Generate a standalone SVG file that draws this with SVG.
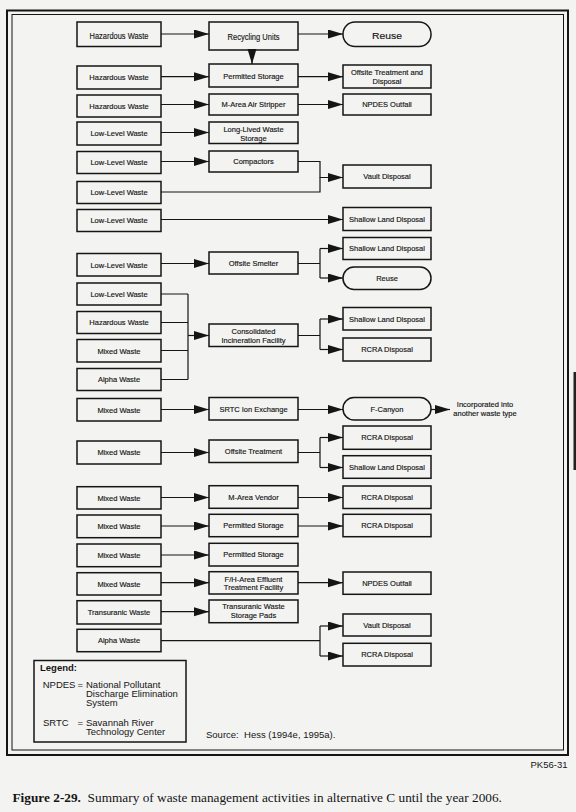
<svg xmlns="http://www.w3.org/2000/svg" width="576" height="812" viewBox="0 0 576 812">
<style>
.b{fill:none;stroke:#151515;stroke-width:1.5}
.c{fill:none;stroke:#151515;stroke-width:1.2}
.a{marker-end:url(#ah)}
.t{font-family:"Liberation Sans",Arial,sans-serif;font-size:7.5px;text-anchor:middle;fill:#151515;stroke:#151515;stroke-width:0.15}
.g{font-family:"Liberation Sans",Arial,sans-serif;font-size:9.5px;text-anchor:middle;fill:#151515;stroke:#151515;stroke-width:0.15}
.l{font-family:"Liberation Sans",Arial,sans-serif;font-size:9.5px;fill:#151515}
.cap{font-family:"Liberation Serif","Times New Roman",serif;font-size:13.3px;fill:#151515}
</style>
<defs>
<marker id="ah" markerUnits="userSpaceOnUse" markerWidth="16" markerHeight="10" refX="15" refY="4.5" orient="auto">
<path d="M0,0 L15,4.5 L0,9 z" fill="#151515"/>
</marker>
</defs>
<rect x="0" y="0" width="576" height="812" fill="#f3f3f2"/>
<g id="frame">
<rect x="7" y="10.5" width="561" height="744.5" fill="none" stroke="#151515" stroke-width="2"/>
<rect x="12" y="14.5" width="551.5" height="735.5" fill="none" stroke="#151515" stroke-width="1"/>
<rect x="573.5" y="372" width="2.5" height="98" fill="#222"/>
</g>
<g id="connectors">
<path class="c a" d="M161,34 H209"/>
<path class="c a" d="M298,34 H343"/>
<path class="c a" d="M252,50 V64"/>
<path class="c a" d="M161,76.7 H209"/>
<path class="c a" d="M298,76.7 H343"/>
<path class="c a" d="M161,104.5 H209"/>
<path class="c a" d="M298,104.5 H343"/>
<path class="c a" d="M161,132.5 H209"/>
<path class="c a" d="M161,161.5 H209"/>
<path class="c a" d="M298,161.5 H320 V177.5 H343"/>
<path class="c" d="M161,192 H320 V177.5"/>
<path class="c a" d="M161,219.5 H343"/>
<path class="c a" d="M161,263.5 H209"/>
<path class="c" d="M298,263.5 H320 M320,248.5 V278"/>
<path class="c a" d="M320,248.5 H343"/>
<path class="c a" d="M320,278 H343"/>
<path class="c" d="M161,294 H188 M161,322.5 H188 M161,350.5 H188 M161,379.5 H188 M188,294 V379.5"/>
<path class="c a" d="M188,335.5 H209"/>
<path class="c" d="M298,335.5 H320 M320,319 V349.5"/>
<path class="c a" d="M320,319 H343"/>
<path class="c a" d="M320,349.5 H343"/>
<path class="c a" d="M161,409.5 H209"/>
<path class="c a" d="M298,409.5 H343"/>
<path class="c a" d="M431,409.5 H450"/>
<path class="c a" d="M161,452.5 H209"/>
<path class="c" d="M298,452.5 H320 M320,437.5 V467.5"/>
<path class="c a" d="M320,437.5 H343"/>
<path class="c a" d="M320,467.5 H343"/>
<path class="c a" d="M161,497.5 H209"/>
<path class="c a" d="M298,497.5 H343"/>
<path class="c a" d="M161,526 H209"/>
<path class="c a" d="M298,526 H343"/>
<path class="c a" d="M161,555 H209"/>
<path class="c a" d="M161,582.7 H209"/>
<path class="c a" d="M298,582.7 H343"/>
<path class="c a" d="M161,611.7 H209"/>
<path class="c" d="M161,640.7 H320 M320,626 V656"/>
<path class="c a" d="M320,626 H343"/>
<path class="c a" d="M320,656 H343"/>
</g>
<g id="n01"><rect class="b" x="77" y="22" width="84" height="24.5"/><text class="g" x="119" y="39" textLength="59" lengthAdjust="spacingAndGlyphs">Hazardous Waste</text></g>
<g id="n02"><rect class="b" x="209" y="22" width="89" height="28"/><text class="g" x="253.5" y="39.5" textLength="52" lengthAdjust="spacingAndGlyphs">Recycling Units</text></g>
<g id="n03"><rect class="b" x="343" y="22" width="88" height="24.5" rx="12"/><text class="g" x="387" y="38.5" textLength="30" lengthAdjust="spacingAndGlyphs">Reuse</text></g>
<g id="n04"><rect class="b" x="77" y="66" width="84" height="23"/><text class="t" x="119" y="80">Hazardous Waste</text></g>
<g id="n05"><rect class="b" x="209" y="64" width="89" height="23"/><text class="t" x="253.5" y="78.5">Permitted Storage</text></g>
<g id="n06"><rect class="b" x="343" y="65" width="88" height="23"/><text class="t" x="387" y="75">Offsite Treatment and<tspan x="387" dy="9">Disposal</tspan></text></g>
<g id="n07"><rect class="b" x="77" y="95" width="84" height="22"/><text class="t" x="119" y="108.7">Hazardous Waste</text></g>
<g id="n08"><rect class="b" x="209" y="94" width="89" height="21"/><text class="t" x="253.5" y="107.2">M-Area Air Stripper</text></g>
<g id="n09"><rect class="b" x="343" y="94" width="88" height="21"/><text class="t" x="387" y="107.2">NPDES Outfall</text></g>
<g id="n10"><rect class="b" x="77" y="122" width="84" height="23"/><text class="t" x="119" y="136.2">Low-Level Waste</text></g>
<g id="n11"><rect class="b" x="209" y="122" width="89" height="21.5"/><text class="t" x="253.5" y="132">Long-Lived Waste<tspan x="253.5" dy="9">Storage</tspan></text></g>
<g id="n12"><rect class="b" x="77" y="151.5" width="84" height="22"/><text class="t" x="119" y="165.2">Low-Level Waste</text></g>
<g id="n13"><rect class="b" x="209" y="151" width="89" height="21"/><text class="t" x="253.5" y="164.2">Compactors</text></g>
<g id="n14"><rect class="b" x="343" y="165" width="88" height="23"/><text class="t" x="387" y="179.2">Vault Disposal</text></g>
<g id="n15"><rect class="b" x="77" y="181.5" width="84" height="22"/><text class="t" x="119" y="195.2">Low-Level Waste</text></g>
<g id="n16"><rect class="b" x="77" y="209.5" width="84" height="22"/><text class="t" x="119" y="223.2">Low-Level Waste</text></g>
<g id="n17"><rect class="b" x="343" y="207.5" width="88" height="23"/><text class="t" x="387" y="221.7">Shallow Land Disposal</text></g>
<g id="n18"><rect class="b" x="77" y="253.5" width="84" height="22.5"/><text class="t" x="119" y="267.5">Low-Level Waste</text></g>
<g id="n19"><rect class="b" x="209" y="252" width="89" height="22"/><text class="t" x="253.5" y="265.7">Offsite Smelter</text></g>
<g id="n20"><rect class="b" x="343" y="237.5" width="88" height="22"/><text class="t" x="387" y="251.2">Shallow Land Disposal</text></g>
<g id="n21"><rect class="b" x="343" y="267" width="88" height="22.5" rx="11"/><text class="t" x="387" y="281">Reuse</text></g>
<g id="n22"><rect class="b" x="77" y="283" width="84" height="22"/><text class="t" x="119" y="296.7">Low-Level Waste</text></g>
<g id="n23"><rect class="b" x="77" y="311.5" width="84" height="22"/><text class="t" x="119" y="325.2">Hazardous Waste</text></g>
<g id="n24"><rect class="b" x="77" y="339.5" width="84" height="22.5"/><text class="t" x="119" y="353.5">Mixed Waste</text></g>
<g id="n25"><rect class="b" x="77" y="368.5" width="84" height="22"/><text class="t" x="119" y="382.2">Alpha Waste</text></g>
<g id="n26"><rect class="b" x="209" y="324" width="89" height="22.5"/><text class="t" x="253.5" y="334.4">Consolidated<tspan x="253.5" dy="8.5">Incineration Facility</tspan></text></g>
<g id="n27"><rect class="b" x="343" y="307.5" width="88" height="22.5"/><text class="t" x="387" y="321.5">Shallow Land Disposal</text></g>
<g id="n28"><rect class="b" x="343" y="338" width="88" height="23"/><text class="t" x="387" y="352.2">RCRA Disposal</text></g>
<g id="n29"><rect class="b" x="77" y="398.5" width="84" height="22.5"/><text class="t" x="119" y="412.5">Mixed Waste</text></g>
<g id="n30"><rect class="b" x="209" y="397.5" width="89" height="22.5"/><text class="t" x="253.5" y="411.5">SRTC Ion Exchange</text></g>
<g id="n31"><rect class="b" x="343" y="397.5" width="88" height="22.5" rx="11"/><text class="t" x="387" y="411.5">F-Canyon</text></g>
<g id="n31-label"><text class="t" x="485" y="406.5">Incorporated into<tspan x="485" dy="9.5">another waste type</tspan></text></g>
<g id="n32"><rect class="b" x="77" y="441" width="84" height="23"/><text class="t" x="119" y="455.2">Mixed Waste</text></g>
<g id="n33"><rect class="b" x="209" y="440" width="89" height="22.5"/><text class="t" x="253.5" y="454">Offsite Treatment</text></g>
<g id="n34"><rect class="b" x="343" y="426" width="88" height="23.3"/><text class="t" x="387" y="440.4">RCRA Disposal</text></g>
<g id="n35"><rect class="b" x="343" y="455.7" width="88" height="22.6"/><text class="t" x="387" y="469.7">Shallow Land Disposal</text></g>
<g id="n36"><rect class="b" x="77" y="486.7" width="84" height="22.3"/><text class="t" x="119" y="500.5">Mixed Waste</text></g>
<g id="n37"><rect class="b" x="209" y="485.7" width="89" height="22.6"/><text class="t" x="253.5" y="499.7">M-Area Vendor</text></g>
<g id="n38"><rect class="b" x="343" y="486" width="88" height="22.5"/><text class="t" x="387" y="500">RCRA Disposal</text></g>
<g id="n39"><rect class="b" x="77" y="515" width="84" height="22.7"/><text class="t" x="119" y="529">Mixed Waste</text></g>
<g id="n40"><rect class="b" x="209" y="514.3" width="89" height="22.4"/><text class="t" x="253.5" y="528.2">Permitted Storage</text></g>
<g id="n41"><rect class="b" x="343" y="514.3" width="88" height="22.4"/><text class="t" x="387" y="528.2">RCRA Disposal</text></g>
<g id="n42"><rect class="b" x="77" y="544" width="84" height="22.7"/><text class="t" x="119" y="558">Mixed Waste</text></g>
<g id="n43"><rect class="b" x="209" y="543.3" width="89" height="22.7"/><text class="t" x="253.5" y="557.3">Permitted Storage</text></g>
<g id="n44"><rect class="b" x="77" y="572.7" width="84" height="22.3"/><text class="t" x="119" y="586.5">Mixed Waste</text></g>
<g id="n45"><rect class="b" x="209" y="571.7" width="89" height="22.3"/><text class="t" x="253.5" y="581.7">F/H-Area Effluent<tspan x="253.5" dy="8.3">Treatment Facility</tspan></text></g>
<g id="n46"><rect class="b" x="343" y="572" width="88" height="22.3"/><text class="t" x="387" y="586">NPDES Outfall</text></g>
<g id="n47"><rect class="b" x="77" y="600.7" width="84" height="23.3"/><text class="t" x="119" y="615">Transuranic Waste</text></g>
<g id="n48"><rect class="b" x="209" y="600" width="89" height="22.7"/><text class="t" x="253.5" y="609.4">Transuranic Waste<tspan x="253.5" dy="9">Storage Pads</tspan></text></g>
<g id="n49"><rect class="b" x="77" y="629.3" width="84" height="22.4"/><text class="t" x="119" y="643.2">Alpha Waste</text></g>
<g id="n50"><rect class="b" x="343" y="614" width="88" height="22"/><text class="t" x="387" y="627.7">Vault Disposal</text></g>
<g id="n51"><rect class="b" x="343" y="643.3" width="88" height="22.7"/><text class="t" x="387" y="657.4">RCRA Disposal</text></g>
<g id="legend">
<rect x="34" y="660.5" width="152" height="81.5" fill="none" stroke="#151515" stroke-width="1.5"/>
<text class="l" x="40" y="671" font-weight="bold" font-size="11px">Legend:</text>
<text class="l" x="42.7" y="687.5">NPDES</text><text class="l" x="77.5" y="687.5">=</text>
<text class="l" x="86" y="687.5">National Pollutant<tspan x="86" dy="9.3">Discharge Elimination</tspan><tspan x="86" dy="9.2">System</tspan></text>
<text class="l" x="43" y="725.5">SRTC</text><text class="l" x="77.5" y="725.5">=</text>
<text class="l" x="86" y="725.5">Savannah River<tspan x="86" dy="9.5">Technology Center</tspan></text>
</g>
<g id="source"><text class="l" x="206" y="738" xml:space="preserve">Source:  Hess (1994e, 1995a).</text></g>
<g id="code"><text class="l" x="567.5" y="768.3" font-size="9px" text-anchor="end">PK56-31</text></g>
<g id="caption"><text class="cap" x="12.5" y="801.5" xml:space="preserve"><tspan font-weight="bold">Figure 2-29.</tspan>  Summary of waste management activities in alternative C until the year 2006.</text></g>
</svg>
